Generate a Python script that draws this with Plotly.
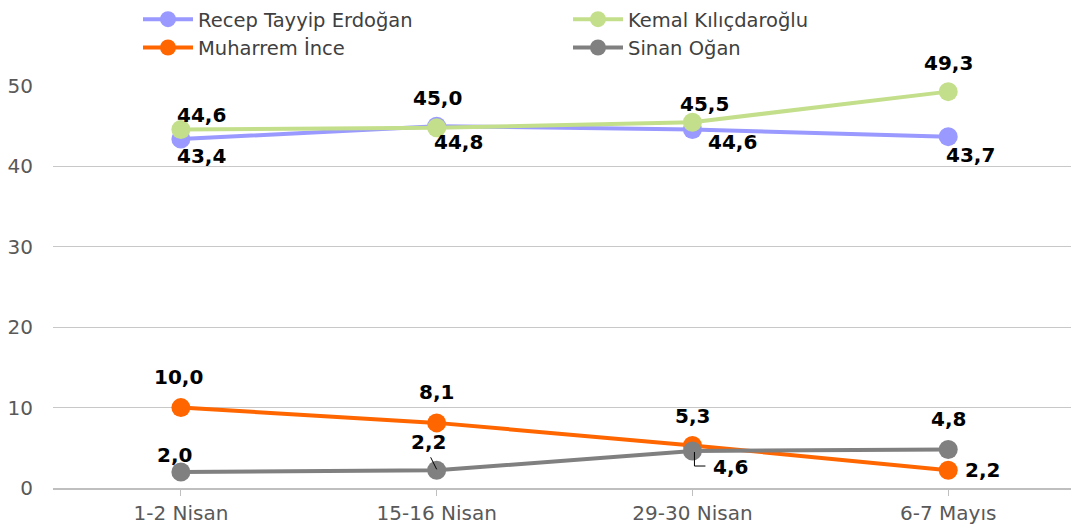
import plotly.graph_objects as go

categories = ["1-2 Nisan", "15-16 Nisan", "29-30 Nisan", "6-7 Mayıs"]
erdogan = [43.4, 45.0, 44.6, 43.7]
kilicdaroglu = [44.6, 44.8, 45.5, 49.3]
ince = [10.0, 8.1, 5.3, 2.2]
ogan = [2.0, 2.2, 4.6, 4.8]
series_names = ["Recep Tayyip Erdoğan", "Kemal Kılıçdaroğlu", "Muharrem İnce", "Sinan Oğan"]
y_ticks = [0, 10, 20, 30, 40, 50]

colors = ["#9999FF", "#C4DF8B", "#FF6600", "#808080"]
# label offsets (screen px: dx right, dy down)
offsets = [
    [(21, 17), (1, -28), (40, 13), (22, 18)],
    [(21, -14), (22, 14), (12, -18), (0, -29)],
    [(-2, -31), (0, -31), (0, -29), (34, 0)],
    [(-6, -17), (-8, -28), (38, 16), (0, -30)],
]

all_series = [erdogan, kilicdaroglu, ince, ogan]
xi = list(range(len(categories)))

fig = go.Figure()
for name, vals, col in zip(series_names, all_series, colors):
    fig.add_trace(go.Scatter(
        x=xi, y=vals, name=name, mode="lines+markers",
        line=dict(color=col, width=4),
        marker=dict(color=col, size=19),
        cliponaxis=False, hoverinfo="skip",
    ))

annotations = []
for s, vals in enumerate(all_series):
    for i, v in enumerate(vals):
        dx, dy = offsets[s][i]
        annotations.append(dict(
            x=i, y=v, xref="x", yref="y", text=f"{v:.1f}".replace(".", ","),
            showarrow=False, xshift=dx, yshift=-dy,
            font=dict(family="DejaVu Sans", size=20, color="#000000", weight="bold"),
        ))

shapes = [
    dict(type="path", xref="x", yref="y", xsizemode="pixel", ysizemode="pixel",
         xanchor=1, yanchor=ogan[1], path="M -6,13 L 0,1",
         line=dict(color="#000000", width=1), layer="above"),
    dict(type="path", xref="x", yref="y", xsizemode="pixel", ysizemode="pixel",
         xanchor=2, yanchor=ogan[2], path="M 2,-1 L 2,-15 L 13,-15",
         line=dict(color="#000000", width=1), layer="above"),
]

fig.update_layout(
    width=1071, height=529,
    margin=dict(l=53, r=0, t=86, b=41),
    paper_bgcolor="white", plot_bgcolor="white",
    font=dict(family="DejaVu Sans", color="#595959"),
    annotations=annotations, shapes=shapes,
    showlegend=True,
    legend=dict(
        orientation="h", xref="container", yref="container",
        x=138 / 1071, y=1.0, xanchor="left", yanchor="top",
        font=dict(size=19.5, color="#404040"),
        itemwidth=50, entrywidth=365, entrywidthmode="pixels",
        tracegroupgap=0, traceorder="normal",
        bgcolor="rgba(0,0,0,0)",
    ),
    xaxis=dict(
        tickmode="array", tickvals=xi, ticktext=categories,
        range=[-0.5, 3.48], showgrid=False, zeroline=False, automargin=False,
        showline=True, linecolor="#BFBFBF", linewidth=1.5,
        ticks="outside", tickson="boundaries", ticklen=6, tickcolor="#BFBFBF",
        tickfont=dict(size=20, color="#595959"), fixedrange=True,
    ),
    yaxis=dict(
        range=[0, 50], tickmode="array", tickvals=y_ticks, automargin=False,
        showgrid=True, gridcolor="#C8C8C8", gridwidth=1, zeroline=False,
        showline=False, ticks="", ticklabelstandoff=19,
        tickfont=dict(size=20, color="#595959"), fixedrange=True,
    ),
)

fig.write_html(
    "out.html",
    config={"displayModeBar": False},
    post_script="document.body.style.margin='0';document.body.style.padding='0';",
)
